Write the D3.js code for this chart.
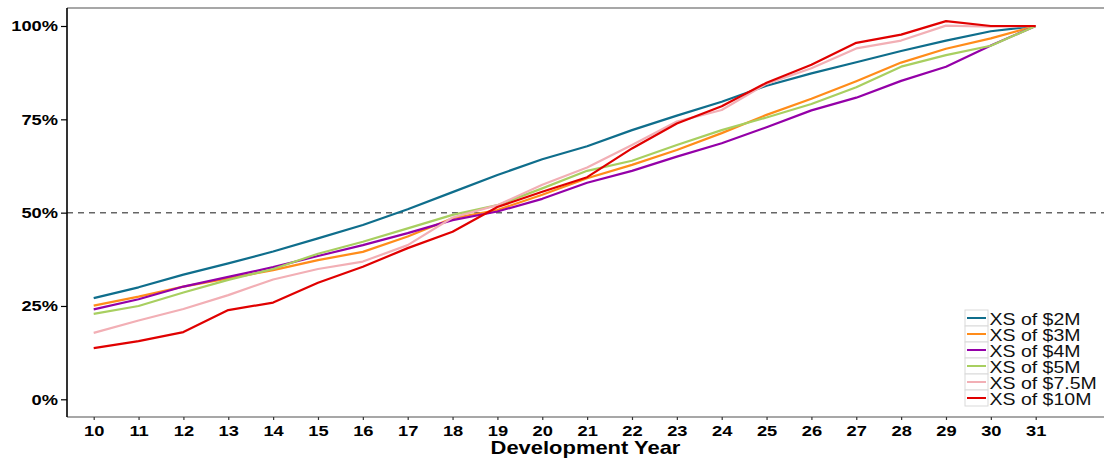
<!DOCTYPE html>
<html>
<head>
<meta charset="utf-8">
<script src="https://cdn.jsdelivr.net/npm/d3@7"></script>
<style>
  body { margin: 0; background: #fff; }
  svg { display: block; font-family: "Liberation Sans", Arial, sans-serif; }
  .wide { transform-box: fill-box; transform: scaleX(1.22); }
</style>
</head>
<body>
<svg id="chart" width="1104" height="462"></svg>
<script>
// Development years on the x axis
const years = [10, 11, 12, 13, 14, 15, 16, 17, 18, 19, 20, 21, 22, 23, 24, 25, 26, 27, 28, 29, 30, 31];

// Cumulative share reported, one array per excess layer
const xs2M  = [0.271, 0.300, 0.334, 0.364, 0.396, 0.431, 0.467, 0.509, 0.555, 0.601, 0.643, 0.678, 0.721, 0.760, 0.797, 0.840, 0.873, 0.903, 0.933, 0.961, 0.986, 1.000];
const xs3M  = [0.251, 0.275, 0.302, 0.324, 0.346, 0.373, 0.395, 0.436, 0.485, 0.507, 0.548, 0.592, 0.628, 0.668, 0.713, 0.762, 0.805, 0.852, 0.902, 0.939, 0.967, 1.000];
const xs4M  = [0.241, 0.268, 0.302, 0.328, 0.354, 0.384, 0.413, 0.445, 0.480, 0.503, 0.537, 0.580, 0.612, 0.650, 0.686, 0.729, 0.774, 0.808, 0.853, 0.891, 0.948, 1.000];
const xs5M  = [0.229, 0.250, 0.286, 0.320, 0.349, 0.390, 0.422, 0.458, 0.494, 0.520, 0.565, 0.612, 0.639, 0.681, 0.721, 0.755, 0.791, 0.836, 0.891, 0.922, 0.947, 1.000];
const xs75M = [0.178, 0.211, 0.242, 0.279, 0.321, 0.349, 0.369, 0.413, 0.487, 0.520, 0.575, 0.621, 0.681, 0.744, 0.775, 0.845, 0.887, 0.940, 0.961, 1.001, 0.998, 1.000];
const xs10M = [0.137, 0.156, 0.180, 0.239, 0.259, 0.312, 0.355, 0.405, 0.449, 0.515, 0.556, 0.595, 0.672, 0.739, 0.785, 0.848, 0.896, 0.955, 0.977, 1.013, 1.000, 1.000];

const seriesNames  = ["XS of $2M", "XS of $3M", "XS of $4M", "XS of $5M", "XS of $7.5M", "XS of $10M"];
const seriesValues = [xs2M, xs3M, xs4M, xs5M, xs75M, xs10M];
const seriesColors = ["#0F6E8C", "#FF8C1A", "#9400A8", "#A8CF60", "#F2AFB5", "#E00000"];

const yTicks = [0, 0.25, 0.5, 0.75, 1];

const panel = { left: 67, right: 1104, top: 8, bottom: 417 };

const svg = d3.select("#chart");

const x = d3.scaleLinear().domain([10, 31]).range([93.7, 1035.7]);
const y = d3.scaleLinear().domain([0, 1]).range([399.3, 26]);

// panel frame: grey top and bottom rules
svg.append("line")
  .attr("x1", panel.left).attr("x2", panel.right)
  .attr("y1", panel.top).attr("y2", panel.top)
  .attr("stroke", "#8a8a8a").attr("stroke-width", 1.5);
svg.append("line")
  .attr("x1", panel.left).attr("x2", panel.right)
  .attr("y1", panel.bottom).attr("y2", panel.bottom)
  .attr("stroke", "#8a8a8a").attr("stroke-width", 1.5);

// 50% reference line
svg.append("line")
  .attr("x1", panel.left).attr("x2", panel.right)
  .attr("y1", y(0.5)).attr("y2", y(0.5))
  .attr("stroke", "#666").attr("stroke-width", 1.5)
  .attr("stroke-dasharray", "6,5");

// series lines
const line = d3.line()
  .x((d, i) => x(years[i]))
  .y(d => y(d));

svg.append("g").selectAll("path")
  .data(seriesValues)
  .join("path")
  .attr("d", d => line(d))
  .attr("fill", "none")
  .attr("stroke", (d, i) => seriesColors[i])
  .attr("stroke-width", 2.2)
  .attr("stroke-linejoin", "round");

// y axis
const yAxis = svg.append("g")
  .attr("transform", `translate(${panel.left},0)`)
  .call(d3.axisLeft(y).tickValues(yTicks).tickFormat(d3.format(".0%")).tickSize(6).tickPadding(3));
yAxis.select(".domain").remove();
yAxis.selectAll(".tick line").attr("stroke", "#000").attr("stroke-width", 1.2);
yAxis.selectAll(".tick text")
  .attr("class", "wide")
  .style("transform-origin", "100% 50%")
  .attr("fill", "#000")
  .attr("font-size", 15)
  .attr("font-weight", "bold")
  .attr("font-family", "'Liberation Sans', Arial, sans-serif");

svg.append("line")
  .attr("x1", panel.left).attr("x2", panel.left)
  .attr("y1", panel.top).attr("y2", panel.bottom)
  .attr("stroke", "#000").attr("stroke-width", 1.6);

// x axis
const xAxis = svg.append("g")
  .attr("transform", `translate(0,${panel.bottom})`)
  .call(d3.axisBottom(x).tickValues(years).tickFormat(d3.format("d")).tickSize(3).tickPadding(5));
xAxis.select(".domain").remove();
xAxis.selectAll(".tick line").attr("stroke", "#333").attr("stroke-width", 1.2);
xAxis.selectAll(".tick text")
  .attr("class", "wide")
  .style("transform-origin", "50% 50%")
  .attr("fill", "#000")
  .attr("font-size", 15)
  .attr("font-weight", "bold")
  .attr("font-family", "'Liberation Sans', Arial, sans-serif");

// axis title
svg.append("text")
  .attr("class", "wide")
  .style("transform-origin", "50% 50%")
  .attr("x", (panel.left + panel.right) / 2)
  .attr("y", 454)
  .attr("text-anchor", "middle")
  .attr("font-size", 18)
  .attr("font-weight", "bold")
  .text("Development Year");

// legend
const legend = svg.append("g").attr("transform", "translate(965,310)");
const rowH = 16;
const rows = legend.selectAll("g")
  .data(seriesNames)
  .join("g")
  .attr("transform", (d, i) => `translate(0,${i * rowH})`);
rows.append("rect")
  .attr("width", 23).attr("height", rowH)
  .attr("fill", "#fff").attr("stroke", "#d9d9d9").attr("stroke-width", 1);
rows.append("line")
  .attr("x1", 2).attr("x2", 21)
  .attr("y1", rowH / 2).attr("y2", rowH / 2)
  .attr("stroke", (d, i) => seriesColors[i])
  .attr("stroke-width", 2);
rows.append("text")
  .attr("class", "wide")
  .style("transform-origin", "0% 50%")
  .attr("x", 24.5)
  .attr("y", 15.5)
  .attr("font-size", 16)
  .attr("fill", "#111")
  .text(d => d);
</script>
</body>
</html>
